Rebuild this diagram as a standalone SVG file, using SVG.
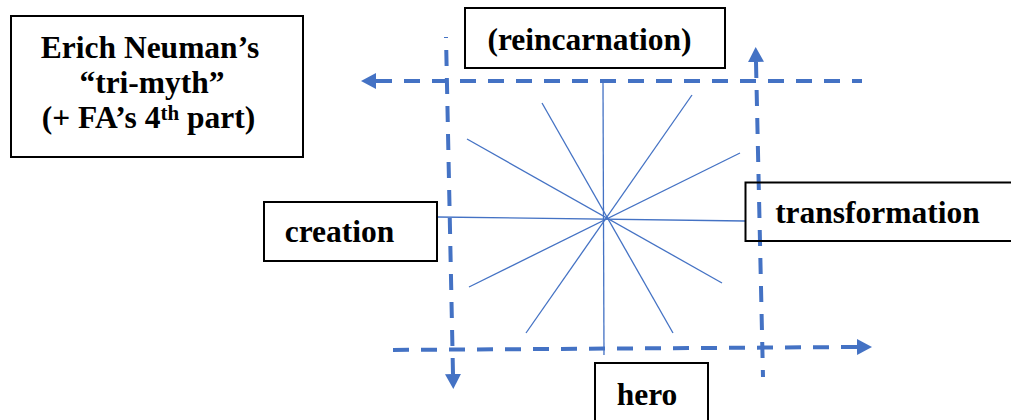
<svg xmlns="http://www.w3.org/2000/svg" width="1011" height="420" viewBox="0 0 1011 420">
  <style>
    .box { fill: none; stroke: #000; stroke-width: 2; }
    .lbl { font-family: "Liberation Serif", "Times New Roman", serif; font-weight: bold; font-size: 31.5px; fill: #000; }
    .dash { fill: none; stroke: #4472C4; stroke-width: 4; stroke-dasharray: 16 12; }
    .ray { fill: none; stroke: #4472C4; stroke-width: 1.3; }
  </style>
  <defs>
    <marker id="arr" viewBox="0 0 15 16" refX="0" refY="8" markerWidth="15" markerHeight="16" markerUnits="userSpaceOnUse" orient="auto-start-reverse">
      <path d="M0,0 L15,8 L0,16 Z" fill="#4472C4"/>
    </marker>
  </defs>
  <rect width="1011" height="420" fill="#fff"/>

  <g id="connectors">
    <g id="rays">
      <line class="ray" x1="603" y1="83" x2="604" y2="355"/>
      <line class="ray" x1="437" y1="217" x2="745" y2="221"/>
      <line class="ray" x1="542" y1="103" x2="673" y2="333"/>
      <line class="ray" x1="692" y1="95" x2="526" y2="333"/>
      <line class="ray" x1="467" y1="139" x2="722" y2="283"/>
      <line class="ray" x1="740" y1="153" x2="469" y2="287"/>
    </g>
    <path id="top-arrow" class="dash" d="M376,81 L862,81" marker-start="url(#arr)"/>
    <path id="bottom-arrow" class="dash" d="M857,347 L388,350" marker-start="url(#arr)"/>
    <path id="left-arrow" class="dash" d="M453,374 L446,37" marker-start="url(#arr)"/>
    <path id="right-arrow" class="dash" d="M756,62 L763,377" marker-start="url(#arr)"/>
  </g>

  <g id="node-title">
    <rect class="box" x="11" y="16" width="292" height="141"/>
    <text class="lbl" x="150" y="58" text-anchor="middle">Erich Neuman’s</text>
    <text class="lbl" x="152" y="93" text-anchor="middle">“tri-myth”</text>
    <text class="lbl" x="148.5" y="128" text-anchor="middle">(+ FA’s 4<tspan font-size="21" dy="-8">th</tspan><tspan dy="8"> part)</tspan></text>
  </g>

  <g id="node-reincarnation">
    <rect class="box" x="465" y="8" width="260" height="60"/>
    <text class="lbl" x="589.5" y="50" text-anchor="middle">(reincarnation)</text>
  </g>

  <g id="node-creation">
    <rect class="box" x="264" y="202" width="173" height="59"/>
    <text class="lbl" x="339.5" y="242" text-anchor="middle">creation</text>
  </g>

  <g id="node-transformation">
    <rect class="box" x="745.5" y="182.5" width="290" height="58.5"/>
    <text class="lbl" x="877.5" y="222.5" text-anchor="middle">transformation</text>
  </g>

  <g id="node-hero">
    <rect class="box" x="595" y="363" width="113" height="80"/>
    <text class="lbl" x="647" y="405" text-anchor="middle">hero</text>
  </g>
</svg>
